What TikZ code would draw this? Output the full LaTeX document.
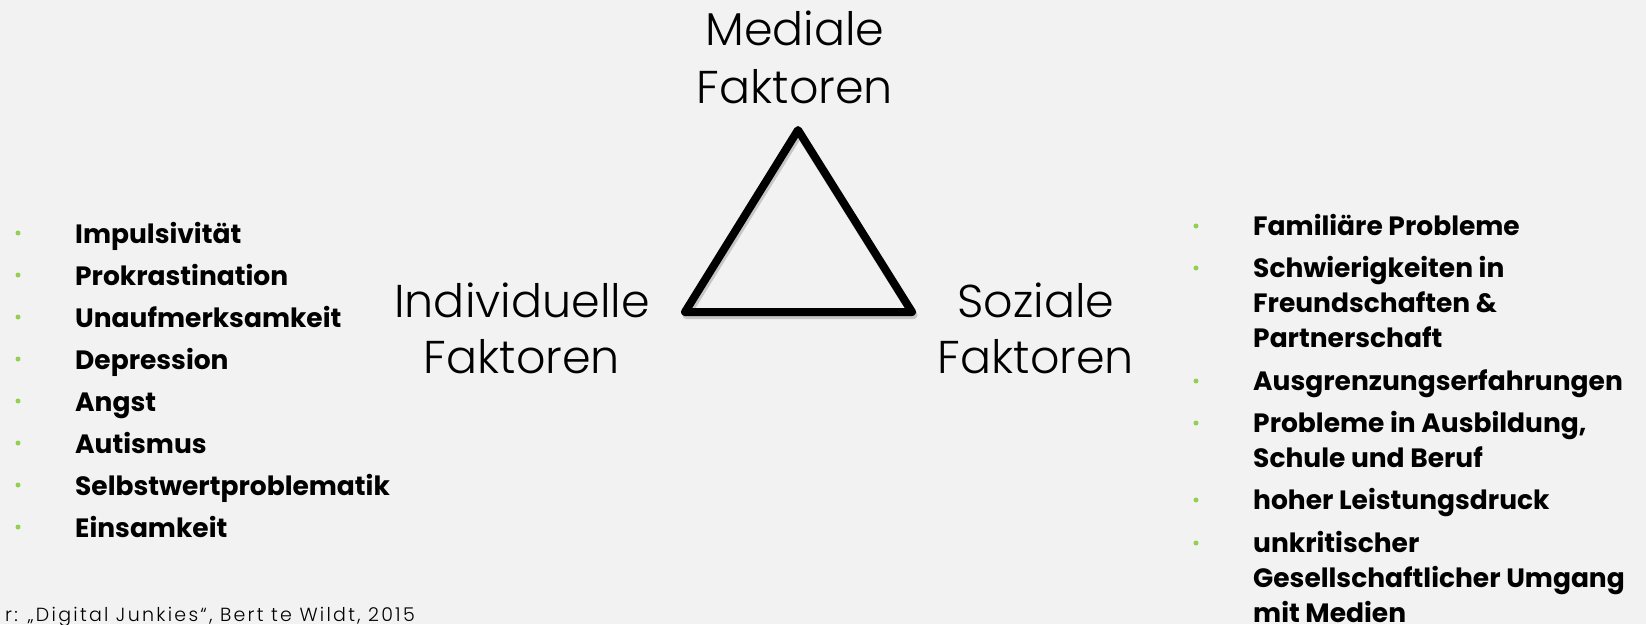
\documentclass[tikz,border=0pt]{standalone}
\usepackage{fontspec}
\setmainfont{Poppins}
\newfontfamily\headfont{Poppins Light}
\newfontfamily\srcfont[LetterSpace=12]{Poppins Light}
\definecolor{bg}{HTML}{F2F2F2}
\definecolor{bul}{HTML}{92D050}
\begin{document}
\begin{tikzpicture}[x=1pt,y=-1pt,
  head/.style={font=\headfont\fontsize{46}{56}\selectfont, align=center, inner sep=0, anchor=base},
  itm/.style={font=\bfseries\fontsize{26.5}{35}\selectfont, anchor=base west, inner sep=0, align=left},
  bulletdot/.style={fill=bul, circle, inner sep=0, minimum size=5pt},
  tri/.style={line width=8pt, line join=round, draw=black},
  trishadow/.style={line width=8pt, line join=round, draw=black, opacity=0.18}]
\fill[bg] (0,0) rectangle (1646,624);
\useasboundingbox (0,0) rectangle (1646,624);
% headings (anchor base = baseline of last line)
\node[head, font=\headfont\fontsize{46}{58}\selectfont] (med) at (795,103) {Mediale\\Faktoren};
\node[head] (ind) at (522,373) {Individuelle\\Faktoren};
\node[head] (soz) at (1036,373) {Soziale\\Faktoren};
% triangle
\coordinate (apex) at (798,130);
\coordinate (bl) at (685,312);
\coordinate (br) at (912,312);
\draw[trishadow, transform canvas={shift={(1.5pt,-3pt)}}] (apex) -- (bl) -- (br) -- cycle;
\draw[tri] (apex) -- (bl) -- (br) -- cycle;
% left list
\foreach \t [count=\i from 0] in {Impulsivität,Prokrastination,Unaufmerksamkeit,Depression,Angst,Autismus,Selbstwertproblematik,Einsamkeit}{
  \node[itm] (l\i) at (75,243+42*\i) {\t};
  \node[bulletdot] (lb\i) at (18,233+42*\i) {};
}
% right list (anchor base = baseline of last line)
\node[itm] (r0) at (1253,235) {Familiäre Probleme};
\node[itm] (r1) at (1253,347) {Schwierigkeiten in\\Freundschaften \&\\Partnerschaft};
\node[itm] (r2) at (1253,390) {Ausgrenzungserfahrungen};
\node[itm] (r3) at (1253,467) {Probleme in Ausbildung,\\Schule und Beruf};
\node[itm] (r4) at (1253,509) {hoher Leistungsdruck};
\node[itm] (r5) at (1253,622) {unkritischer\\Gesellschaftlicher Umgang\\mit Medien};
\foreach \y [count=\i from 0] in {235,277,390,432,509,552}{
  \node[bulletdot] (rb\i) at (1196,\y-9) {};
}
% source
\node[font=\srcfont\fontsize{19}{20}\selectfont, anchor=base east, inner sep=0] (src) at (415,621) {r: „Digital Junkies“, Bert te Wildt, 2015};
\end{tikzpicture}
\end{document}
